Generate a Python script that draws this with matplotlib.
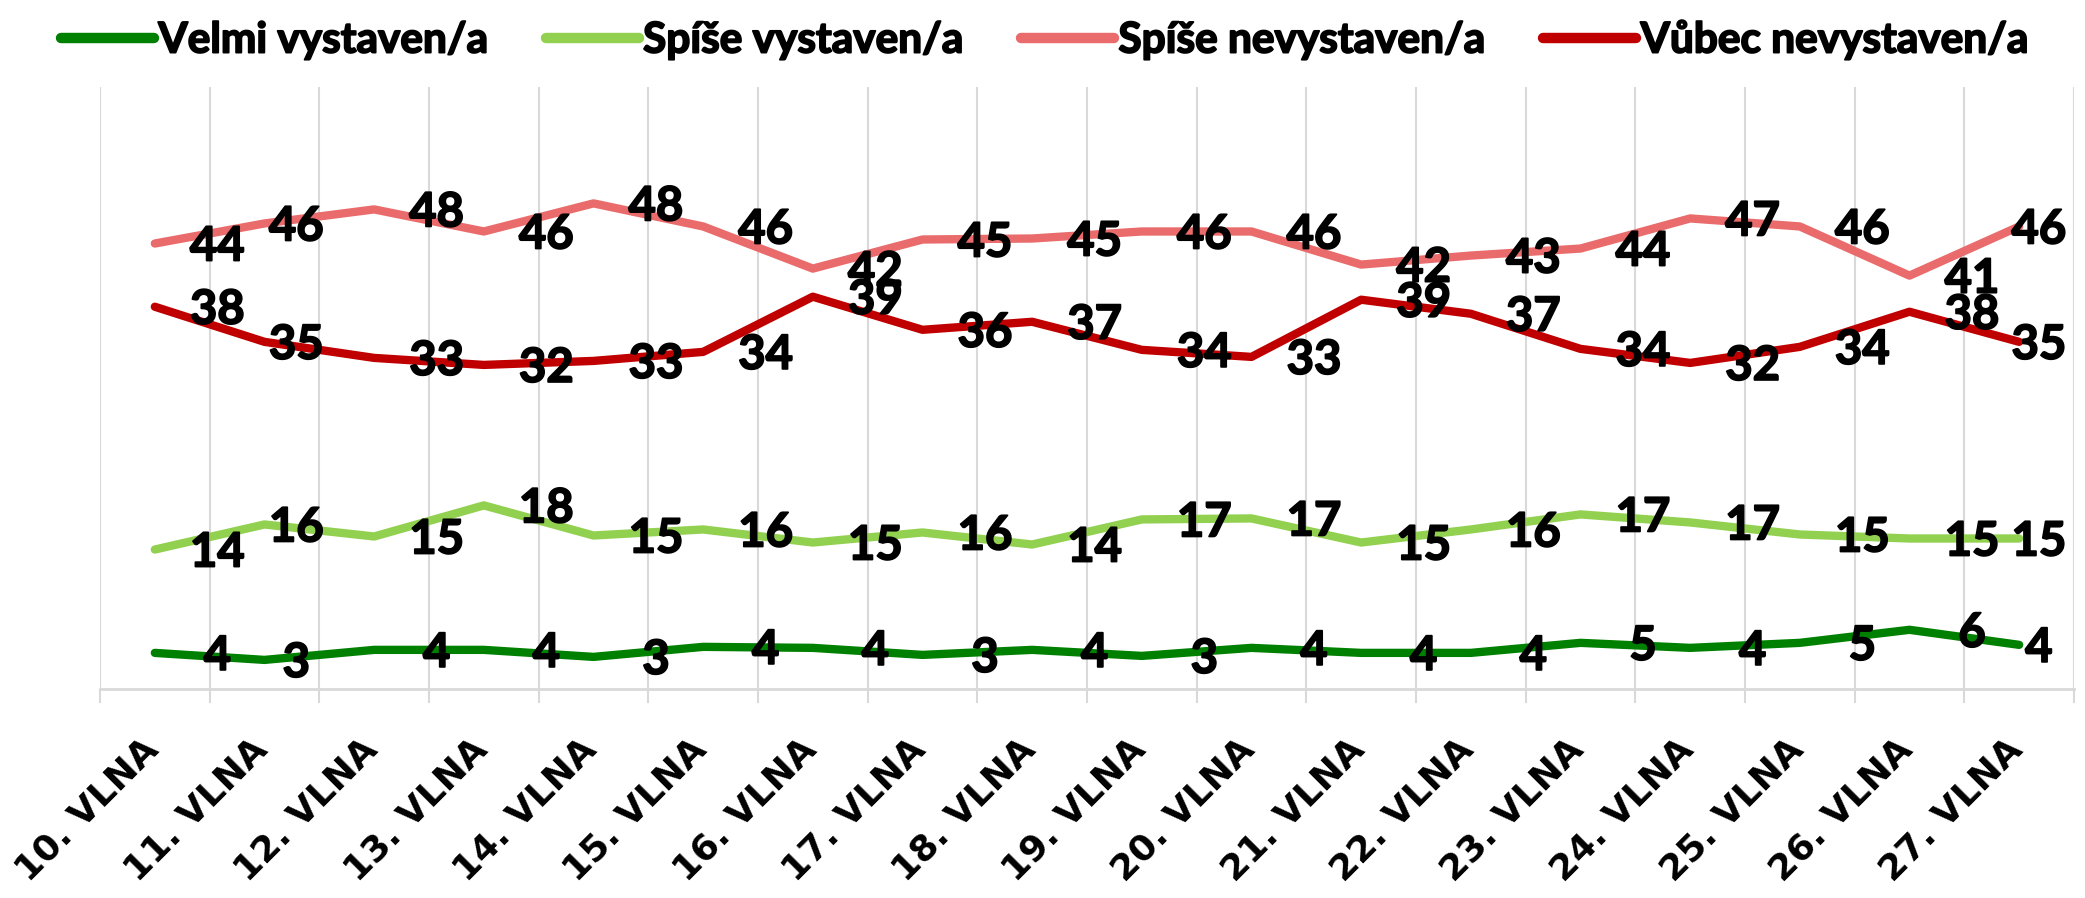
import matplotlib
matplotlib.use("Agg")
import matplotlib.pyplot as plt
from matplotlib.lines import Line2D
from matplotlib.font_manager import FontProperties, fontManager
import matplotlib.transforms as mtransforms
import matplotlib.patheffects as pe

# ---------------- data ----------------
categories = ["10. VLNA", "11. VLNA", "12. VLNA", "13. VLNA", "14. VLNA", "15. VLNA",
              "16. VLNA", "17. VLNA", "18. VLNA", "19. VLNA", "20. VLNA", "21. VLNA",
              "22. VLNA", "23. VLNA", "24. VLNA", "25. VLNA", "26. VLNA", "27. VLNA"]

velmi_vystaven = [3.6, 2.9, 3.9, 3.9, 3.2, 4.2, 4.1, 3.4, 3.9, 3.3, 4.1, 3.6,
                  3.6, 4.6, 4.1, 4.6, 5.9, 4.4]
spise_vystaven = [13.9, 16.4, 15.2, 18.3, 15.3, 15.9, 14.6, 15.6, 14.4, 16.9, 17.0, 14.6,
                  15.9, 17.4, 16.6, 15.4, 15.0, 15.0]
spise_nevystaven = [44.4, 46.4, 47.8, 45.6, 48.4, 46.1, 41.9, 44.8, 44.9, 45.6, 45.6, 42.3,
                    43.2, 43.9, 46.9, 46.1, 41.2, 46.1]
vubec_nevystaven = [38.1, 34.6, 33.0, 32.3, 32.7, 33.6, 39.1, 35.8, 36.6, 33.8, 33.1, 38.8,
                    37.4, 33.9, 32.5, 34.1, 37.6, 34.6]

series_names = ["Velmi vystaven/a", "Spíše vystaven/a", "Spíše nevystaven/a", "Vůbec nevystaven/a"]

# ---------------- style ----------------
colors = ["#008000", "#92D050", "#EA6B6B", "#C00000"]
label_dx = [0.57, 0.29, 0.57, 0.57, 0.57, 0.57, 0.57, 0.57, 0.57, 0.57, 0.57, 0.57,
            0.57, 0.57, 0.57, 0.57, 0.57, 0.18]
grid_color = "#D9D9D9"


def _weight(w):
    if isinstance(w, (int, float)):
        return int(w)
    return {"bold": 700, "heavy": 800, "black": 900, "extra bold": 800,
            "ultrabold": 800, "semibold": 600, "demibold": 600}.get(str(w).lower(), 400)


def pick_bold(cands):
    for fam in cands:
        for e in fontManager.ttflist:
            if e.name == fam and _weight(e.weight) == 700 and e.style == "normal":
                return fam
    return "DejaVu Sans"


BOLD_FAM = pick_bold(["Lato", "Open Sans", "Roboto", "Noto Sans"])
LATIN = [BOLD_FAM, "DejaVu Sans"]
heavy = [pe.withStroke(linewidth=1.3, foreground="black")]

W, H = 2085, 898
fig = plt.figure(figsize=(W / 100, H / 100), dpi=100)
left, right, top, bottom = 100, 2074, 87, 689
ax = fig.add_axes([left / W, 1 - bottom / H, (right - left) / W, (bottom - top) / H])

series = [velmi_vystaven, spise_vystaven, spise_nevystaven, vubec_nevystaven]
x = list(range(len(categories)))

for vals, col, name in zip(series, colors, series_names):
    ax.plot(x, vals, color=col, lw=6.0, solid_capstyle="round",
            solid_joinstyle="round", label=name, zorder=3)

for vals in series:
    for i, v in enumerate(vals):
        ax.text(i + label_dx[i], v - 0.3, f"{v:.0f}", ha="center", va="center",
                fontsize=34, fontweight="bold", family=LATIN, color="black",
                zorder=5, path_effects=heavy)

ax.set_xlim(-0.5, len(categories) - 0.5)
ax.set_ylim(0, 60)
ax.set_yticks([])

ax.set_xticks(x)
ax.set_xticks([i - 0.5 for i in range(len(categories) + 1)], minor=True)
ax.set_xticklabels(categories, rotation=45, ha="right", va="baseline",
                   rotation_mode="anchor", fontsize=26, fontweight="bold",
                   family=["DejaVu Sans"])
ax.tick_params(axis="x", which="major", length=0, pad=45)
ax.tick_params(axis="x", which="minor", length=10, width=1.5, color=grid_color)
ax.grid(which="minor", axis="x", color=grid_color, lw=1.5, zorder=0)
ax.grid(which="major", axis="x", visible=False)

shift = mtransforms.ScaledTranslation(5 / 100, 0, fig.dpi_scale_trans)
for lbl in ax.get_xticklabels():
    lbl.set_transform(lbl.get_transform() + shift)

for s in ["left", "right", "top"]:
    ax.spines[s].set_visible(False)
ax.spines["bottom"].set_color(grid_color)
ax.spines["bottom"].set_linewidth(2)

handles = [Line2D([0], [0], color=c, lw=7.5, solid_capstyle="round") for c in colors]
leg = fig.legend(handles, series_names, loc="center", bbox_to_anchor=(1045 / W, 1 - 40 / H),
                 ncol=4, frameon=False,
                 prop=FontProperties(family=LATIN, weight="bold", size=30.5),
                 handlelength=2.2, handletextpad=0.1, columnspacing=1.35)
for t in leg.get_texts():
    t.set_path_effects(heavy)

fig.savefig("out.png", dpi=100)
